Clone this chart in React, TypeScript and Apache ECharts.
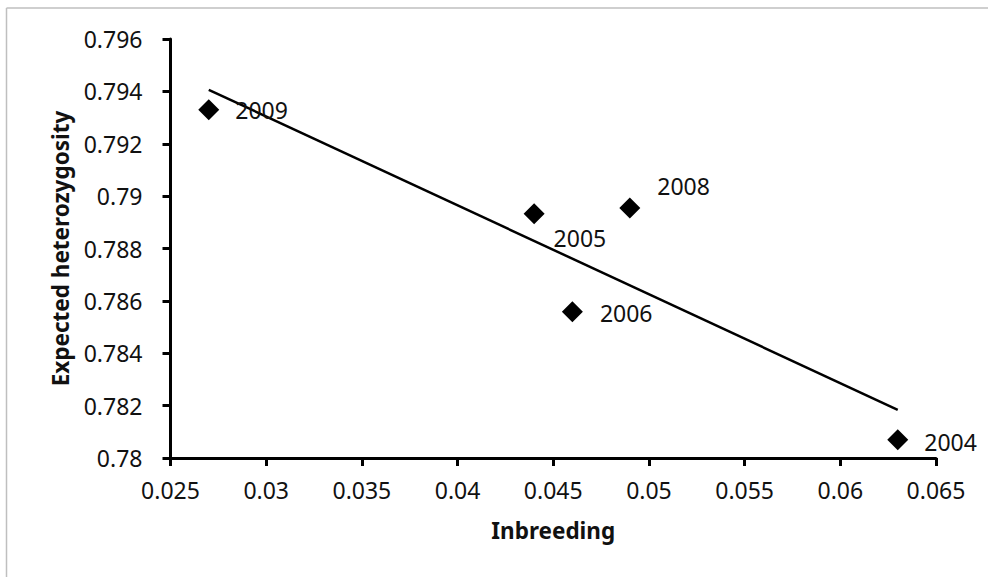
import React, { useEffect, useRef } from "react";
import * as echarts from "echarts";

const years = ["2009", "2005", "2008", "2006", "2004"];
const inbreeding = [0.027, 0.044, 0.049, 0.046, 0.063];
const heterozygosity = [0.7933, 0.78933, 0.78955, 0.78558, 0.7807];
const trendX = [0.027, 0.063];
const trendY = [0.79406, 0.78184];
const xTicks = { min: 0.025, max: 0.065, interval: 0.005 };
const yTicks = { min: 0.78, max: 0.796, interval: 0.002 };

const labelOffsets: Record<string, [number, number]> = {
  "2009": [16, 0],
  "2005": [9, 24],
  "2008": [17, -22],
  "2006": [17, 1],
  "2004": [16, 2],
};

const FONT = "'Noto Sans', 'Open Sans', sans-serif";
const TEXT = "#111111";
const fmt = (v: number) => String(+v.toFixed(3));

export default function App() {
  const ref = useRef<HTMLDivElement>(null);
  useEffect(() => {
    if (!ref.current) return;
    const chart = echarts.init(ref.current, null, { renderer: "svg" });
    const points = years.map((y, i) => ({
      value: [inbreeding[i], heterozygosity[i]],
      name: y,
      label: { offset: labelOffsets[y] },
    }));
    chart.setOption({
      animation: false,
      backgroundColor: "#ffffff",
      grid: { left: 170.5, right: 52, top: 39, bottom: 119, containLabel: false },
      xAxis: {
        type: "value",
        min: xTicks.min,
        max: xTicks.max,
        interval: xTicks.interval,
        name: "Inbreeding",
        nameLocation: "middle",
        nameGap: 61,
        nameTextStyle: { fontFamily: FONT, fontSize: 22.5, fontWeight: "bold", color: TEXT },
        axisLine: { lineStyle: { color: "#000", width: 3 } },
        axisTick: { inside: false, length: 8, lineStyle: { color: "#000", width: 3 } },
        axisLabel: { fontFamily: FONT, fontSize: 23, color: TEXT, margin: 20, formatter: fmt },
        splitLine: { show: false },
      },
      yAxis: {
        type: "value",
        min: yTicks.min,
        max: yTicks.max,
        interval: yTicks.interval,
        name: "Expected heterozygosity",
        nameLocation: "middle",
        nameGap: 99,
        nameTextStyle: { fontFamily: FONT, fontSize: 22.5, fontWeight: "bold", color: TEXT },
        axisLine: { lineStyle: { color: "#000", width: 3 } },
        axisTick: { inside: false, length: 8, lineStyle: { color: "#000", width: 3 } },
        axisLabel: { fontFamily: FONT, fontSize: 23, color: TEXT, margin: 28, formatter: fmt },
        splitLine: { show: false },
      },
      graphic: [
        { type: "line", shape: { x1: 6.5, y1: 8, x2: 988, y2: 8 }, style: { stroke: "#bfbfbf", lineWidth: 1.5 } },
        { type: "line", shape: { x1: 6.5, y1: 8, x2: 6.5, y2: 577 }, style: { stroke: "#bfbfbf", lineWidth: 1.5 } },
      ],
      series: [
        {
          type: "line",
          data: trendX.map((x, i) => [x, trendY[i]]),
          showSymbol: false,
          symbol: "none",
          lineStyle: { color: "#000", width: 2.5 },
          silent: true,
          z: 1,
        },
        {
          type: "scatter",
          data: points,
          symbol: "diamond",
          symbolSize: 21,
          itemStyle: { color: "#000", opacity: 1 },
          label: {
            show: true,
            position: "right",
            distance: 0,
            formatter: (p: any) => p.name,
            fontFamily: FONT,
            fontSize: 23,
            color: TEXT,
            opacity: 1,
          },
          z: 2,
        },
      ],
    });
    return () => chart.dispose();
  }, []);
  return (
    <div
      ref={ref}
      style={{ position: "absolute", left: 0, top: 0, width: 988, height: 577 }}
    />
  );
}
